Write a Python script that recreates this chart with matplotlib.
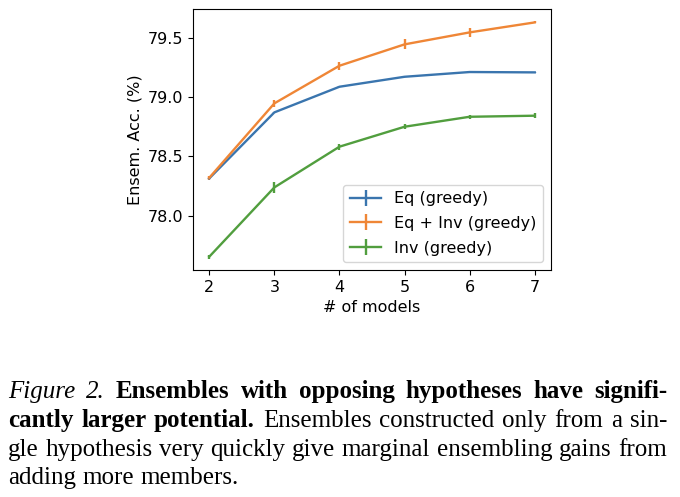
import matplotlib
matplotlib.use("Agg")
import matplotlib.pyplot as plt
import numpy as np

# data
n_models = [2, 3, 4, 5, 6, 7]
eq_acc = [78.315, 78.871, 79.087, 79.171, 79.211, 79.208]
eq_err = [0.005, 0.006, 0.006, 0.005, 0.005, 0.005]
eq_inv_acc = [78.32, 78.947, 79.264, 79.444, 79.545, 79.629]
eq_inv_err = [0.015, 0.032, 0.032, 0.042, 0.038, 0.008]
inv_acc = [77.655, 78.239, 78.582, 78.75, 78.834, 78.843]
inv_err = [0.018, 0.045, 0.026, 0.02, 0.018, 0.02]
labels = ["Eq (greedy)", "Eq + Inv (greedy)", "Inv (greedy)"]

W, H = 680, 497
fig = plt.figure(figsize=(W / 100, H / 100), dpi=100)
ax = fig.add_axes([193 / W, 1 - 270 / H, (551 - 193) / W, (270 - 9) / H])

ax.errorbar(n_models, eq_acc, yerr=eq_err, color="#3a75ae", lw=1.7, label=labels[0])
ax.errorbar(n_models, eq_inv_acc, yerr=eq_inv_err, color="#ef8636", lw=1.7, label=labels[1])
ax.errorbar(n_models, inv_acc, yerr=inv_err, color="#519e3e", lw=1.7, label=labels[2])

ax.set_ylim(77.543, 79.742)
ax.set_xlim(1.75, 7.25)
ax.set_yticks([78.0, 78.5, 79.0, 79.5])
ax.set_xticks(n_models)
ax.tick_params(labelsize=11.5)
ax.set_xlabel("# of models", fontsize=11.5)
ax.set_ylabel("Ensem. Acc. (%)", fontsize=11.5)
ax.legend(loc="lower right", fontsize=11.5, borderaxespad=0.5, labelspacing=0.6)

# caption, justified like in the paper
cap_font = "Liberation Serif"
cap_size = 18
left, right = 8, 667
caption = [
    ([("Figure", "italic", "normal"), ("2.", "italic", "normal")]
     + [(w, "normal", "bold") for w in "Ensembles with opposing hypotheses have signifi-".split()], 398, True),
    ([(w, "normal", "bold") for w in "cantly larger potential.".split()]
     + [(w, "normal", "normal") for w in "Ensembles constructed only from a sin-".split()], 427, True),
    ([(w, "normal", "normal") for w in "gle hypothesis very quickly give marginal ensembling gains from".split()], 456, True),
    ([(w, "normal", "normal") for w in "adding more members.".split()], 484, False),
]

renderer = fig.canvas.get_renderer()
space = fig.text(0, 0, "a a", fontfamily=cap_font, fontsize=cap_size)
aa = fig.text(0, 0, "aa", fontfamily=cap_font, fontsize=cap_size)
space_w = space.get_window_extent(renderer).width - aa.get_window_extent(renderer).width
space.remove()
aa.remove()

for words, yb, justify in caption:
    texts = []
    widths = []
    for w, style, weight in words:
        t = fig.text(0, 1 - yb / H, w, fontfamily=cap_font, fontsize=cap_size,
                     fontstyle=style, fontweight=weight, va="baseline", ha="left")
        texts.append(t)
        widths.append(t.get_window_extent(renderer).width)
    if justify:
        gap = (right - left - sum(widths)) / (len(words) - 1)
    else:
        gap = space_w
    x = left
    for t, wd in zip(texts, widths):
        t.set_x(x / W)
        x += wd + gap

fig.savefig("out.png", dpi=100)
